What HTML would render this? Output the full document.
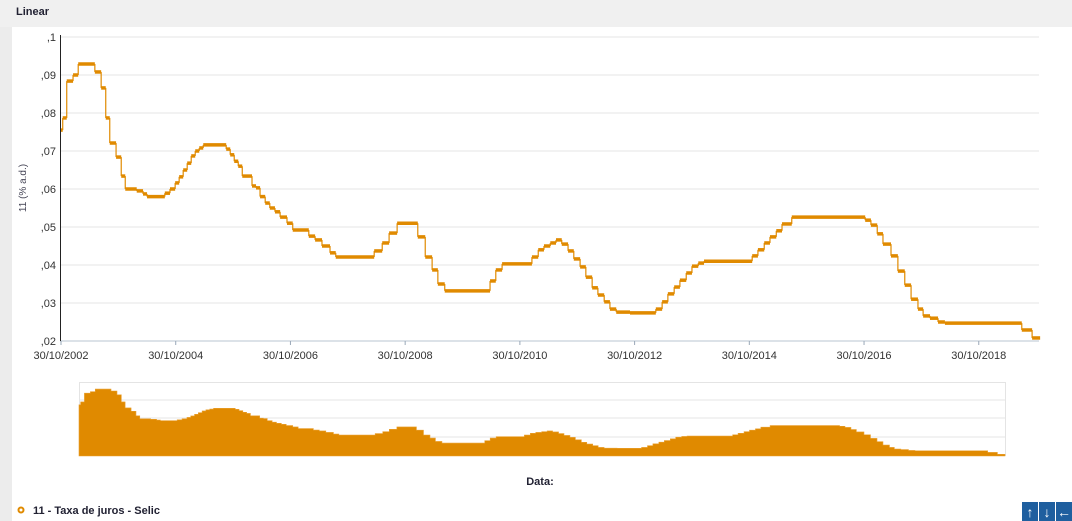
<!DOCTYPE html>
<html><head><meta charset="utf-8"><style>
body{margin:0;width:1072px;height:521px;background:#fff;font-family:"Liberation Sans",sans-serif;overflow:hidden;position:relative}
#hdr{position:absolute;left:0;top:0;width:1072px;height:27px;background:#f0f0f0}
#hdr span{position:absolute;left:16px;top:6px;font-size:11px;font-weight:bold;color:#223}
#lstrip{position:absolute;left:0;top:27px;width:12px;height:494px;background:#ececec}
svg{position:absolute;left:0;top:0}
</style></head><body>
<div id="hdr"><span>Linear</span></div>
<div id="lstrip"></div>
<svg id="chart" width="1072" height="521"></svg>
<script>
const dates=[2002.83,2002.86,2002.93,2003.04,2003.13,2003.42,2003.53,2003.61,2003.68,2003.79,2003.88,2003.95,2004.15,2004.26,2004.33,2004.64,2004.73,2004.82,2004.89,2004.96,2005.03,2005.10,2005.17,2005.24,2005.31,2005.71,2005.78,2005.85,2005.92,2005.99,2006.16,2006.23,2006.30,2006.39,2006.47,2006.56,2006.65,2006.77,2006.87,2007.15,2007.26,2007.38,2007.52,2007.62,2008.29,2008.43,2008.55,2008.69,2009.05,2009.18,2009.30,2009.40,2009.52,2010.31,2010.41,2010.52,2011.04,2011.15,2011.25,2011.36,2011.46,2011.56,2011.67,2011.77,2011.88,2011.98,2012.09,2012.19,2012.30,2012.40,2012.51,2012.75,2013.20,2013.31,2013.41,2013.52,2013.62,2013.73,2013.83,2013.94,2014.04,2014.88,2014.98,2015.09,2015.19,2015.30,2015.40,2015.57,2016.85,2016.95,2017.06,2017.16,2017.30,2017.42,2017.54,2017.65,2017.77,2017.86,2017.98,2018.12,2018.24,2019.58,2019.76];
const values=[0.0755,0.0787,0.0884,0.0900,0.0929,0.0908,0.0866,0.0787,0.0721,0.0684,0.0634,0.0600,0.0595,0.0587,0.0580,0.0589,0.0600,0.0616,0.0632,0.0650,0.0668,0.0687,0.0700,0.0708,0.0716,0.0705,0.0690,0.0673,0.0660,0.0634,0.0608,0.0603,0.0580,0.0563,0.0550,0.0540,0.0526,0.0510,0.0492,0.0476,0.0466,0.0450,0.0432,0.0421,0.0437,0.0458,0.0484,0.0510,0.0474,0.0421,0.0387,0.0350,0.0332,0.0358,0.0387,0.0403,0.0421,0.0440,0.0450,0.0458,0.0466,0.0455,0.0437,0.0416,0.0395,0.0368,0.0340,0.0321,0.0303,0.0284,0.0276,0.0274,0.0284,0.0303,0.0324,0.0342,0.0360,0.0379,0.0397,0.0405,0.0410,0.0424,0.0440,0.0458,0.0474,0.0490,0.0508,0.0526,0.0518,0.0505,0.0482,0.0455,0.0424,0.0384,0.0347,0.0310,0.0284,0.0266,0.0260,0.0250,0.0247,0.0229,0.0208];
const endDate=2019.90;
const yTicks=[0.02,0.03,0.04,0.05,0.06,0.07,0.08,0.09,0.1];
const yTickLabels=[",02",",03",",04",",05",",06",",07",",08",",09",",1"];
const xTicks=[2002.83,2004.83,2006.83,2008.83,2010.83,2012.83,2014.83,2016.83,2018.83];
const xTickLabels=["30/10/2002","30/10/2004","30/10/2006","30/10/2008","30/10/2010","30/10/2012","30/10/2014","30/10/2016","30/10/2018"];

const NS="http://www.w3.org/2000/svg";
const svg=document.getElementById('chart');
const C="#e08a00";
function mk(t,a,p){const e=document.createElementNS(NS,t);for(const k in a)e.setAttribute(k,a[k]);(p||svg).appendChild(e);return e;}
const x=d=>61+(d-2002.83)*57.36;
const y=v=>37+(0.1-v)*3800;
const mx=d=>79+(d-2002.83)*(926/(endDate-2002.83));
const my=v=>455-(v-0.02)*904;

// grid
yTicks.forEach((t,i)=>{
  const g=mk('line',{x1:60,x2:1039,y1:y(t),y2:y(t),stroke:i==0?'#b8c4d0':'#e6e6e6','stroke-width':1});
  
  
  const l=mk('text',{x:56,y:y(t)+4,'text-anchor':'end','font-size':11,fill:'#333'});
  l.textContent=yTickLabels[i];
  
  
});
const ax=mk('line',{x1:60.5,x2:60.5,y1:35,y2:341,stroke:'#222','stroke-width':1});


xTicks.forEach((t,i)=>{
  mk('line',{x1:x(t),x2:x(t),y1:341,y2:345,stroke:'#9aa8b8'});
  const l=mk('text',{x:x(t),y:359,'text-anchor':'middle','font-size':11,fill:'#333'});
  l.textContent=xTickLabels[i];
  
  
});
const yt=mk('text',{x:26,y:188,'text-anchor':'middle','font-size':10,fill:'#445',transform:'rotate(-90 26 188)'});
yt.textContent="11 (% a.d.)";



// main series
const gs=mk('g',{});


for(let i=0;i<dates.length;i++){
  const x1=x(dates[i]),x2=x(i+1<dates.length?dates[i+1]:endDate);
  const h=mk('line',{x1:x1,x2:x2,y1:y(values[i]),y2:y(values[i]),stroke:C,'stroke-width':3.5},gs);
  
  
  if(i+1<dates.length){
    const v=mk('line',{x1:x2,x2:x2,y1:y(values[i]),y2:y(values[i+1]),stroke:C,'stroke-width':1.2},gs);
    
    
  }
}

// navigator
const nb=mk('rect',{x:79.5,y:382.5,width:926,height:73,fill:'#fff',stroke:'#e4e4e4'});


[400,418,437].forEach(gy=>mk('line',{x1:80,x2:1005,y1:gy,y2:gy,stroke:'#e6e6e6'}));
let d=`M${mx(dates[0])},456`;
for(let i=0;i<dates.length;i++){
  const x2=mx(i+1<dates.length?dates[i+1]:endDate);
  d+=` L${mx(dates[i])},${my(values[i])} L${x2},${my(values[i])}`;
}
d+=` L${mx(endDate)},456 Z`;
const ar=mk('path',{d:d,fill:C,stroke:'#e9a030','stroke-width':0.6});



const dt=mk('text',{x:540,y:485,'text-anchor':'middle','font-size':11,'font-weight':'bold',fill:'#223'});
dt.textContent="Data:";



// legend
const ld=mk('circle',{cx:21,cy:510,r:2.5,fill:'none',stroke:C,'stroke-width':2});


const lt=mk('text',{x:33,y:514,'font-size':11,'font-weight':'bold',fill:'#223'});
lt.textContent="11 - Taxa de juros - Selic";



// buttons
[["↑",1022,'up-button'],["↓",1039,'down-button'],["←",1056,'left-button']].forEach(b=>{
  const r=mk('rect',{x:b[1],y:502,width:16,height:19,fill:'#1f5f9f'});
  
  
  const t=mk('text',{x:b[1]+8,y:517,'text-anchor':'middle','font-size':14,'font-weight':'bold',fill:'#fff'});
  t.textContent=b[0];
});
</script>
</body></html>
